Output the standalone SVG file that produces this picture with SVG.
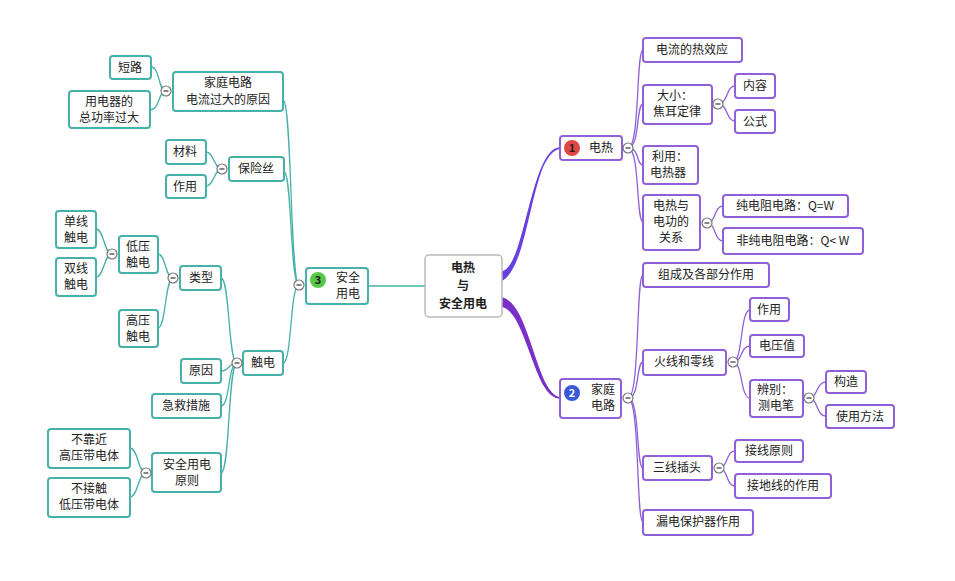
<svg xmlns="http://www.w3.org/2000/svg" width="955" height="581" viewBox="0 0 955 581">
<style>
text{font-family:"Noto Sans CJK SC","Noto Sans",sans-serif;font-size:12px;fill:#222;text-anchor:middle}
.p rect{fill:#fff;stroke:#9060d8;stroke-width:2}
.t rect{fill:#fff;stroke:#48b0aa;stroke-width:2}
.cp{fill:none;stroke:#9060d8;stroke-width:1.3}
.ct{fill:none;stroke:#48b0aa;stroke-width:1.3}
.c circle{fill:#fff;stroke:#777;stroke-width:1.2}
.c line{stroke:#444;stroke-width:1.3}
.b{font-weight:bold}
.i{font-weight:bold;font-size:11px}
</style>
<rect width="955" height="581" fill="#fff"/>
<g id="connectors">
<path d="M502,280 C530,265 530,150 560,148 C530,152 526,268 502,272 Z" fill="#6a3fe0" stroke="#6a3fe0" stroke-width="1.5"/>
<path d="M502,298 C530,305 535,395 560,398 C534,398 528,312 502,306 Z" fill="#7a30c8" stroke="#7a30c8" stroke-width="1.5"/>
<path class="ct" d="M368,286 H425"/>
<g class="cp">
<path d="M628,148 C640,148 636,50 643,50"/>
<path d="M628,148 C640,148 636,104 643,104"/>
<path d="M628,148 C640,148 636,165 643,165"/>
<path d="M628,148 C640,148 636,222 643,222"/>
<path d="M718,104 C728,104 726,86 735,86"/>
<path d="M718,104 C728,104 726,121 735,121"/>
<path d="M707,223 C716,223 714,206 723,206"/>
<path d="M707,223 C716,223 714,241 723,241"/>
<path d="M628,398 C640,398 636,275 643,275"/>
<path d="M628,398 C640,398 636,362 643,362"/>
<path d="M628,398 C640,398 636,468 643,468"/>
<path d="M628,398 C640,398 636,522 643,522"/>
<path d="M733,362 C743,362 740,310 750,310"/>
<path d="M733,362 C743,362 740,346 750,346"/>
<path d="M733,362 C743,362 740,398 750,398"/>
<path d="M809,398 C818,398 816,382 826,382"/>
<path d="M809,398 C818,398 816,416 826,416"/>
<path d="M719,468 C728,468 726,451 735,451"/>
<path d="M719,468 C728,468 726,486 735,486"/>
</g>
<g class="ct">
<path d="M299,285 C290,285 292,100 283,100"/>
<path d="M299,285 C290,285 292,172 284,172"/>
<path d="M299,285 C290,285 292,363 283,363"/>
<path d="M166,91 C158,91 160,67 151,67"/>
<path d="M166,91 C158,91 160,110 150,110"/>
<path d="M222,169 C214,169 214,152 206,152"/>
<path d="M222,169 C214,169 214,186 206,186"/>
<path d="M237,363 C228,363 230,278 221,278"/>
<path d="M237,363 C228,363 230,371 221,371"/>
<path d="M237,363 C228,363 230,406 221,406"/>
<path d="M237,363 C228,363 230,473 221,473"/>
<path d="M173,278 C165,278 166,254 158,254"/>
<path d="M173,278 C165,278 166,328 158,328"/>
<path d="M112,254 C104,254 104,229 96,229"/>
<path d="M112,254 C104,254 104,277 96,277"/>
<path d="M146,473 C138,473 138,448 130,448"/>
<path d="M146,473 C138,473 138,497 130,497"/>
</g>
</g>
<g id="center"><rect x="425" y="255" width="77" height="62" rx="4" fill="#fff" stroke="#bbb" stroke-width="1.5"/><text class="b" x="463" y="272">电热</text><text class="b" x="463" y="290">与</text><text class="b" x="463" y="308">安全用电</text></g>
<g class="p">
<g id="n1"><rect x="560" y="136" width="62" height="24" rx="3"/><circle cx="572" cy="148" r="8" fill="#e04848"/><text x="572" y="152" class="i">1</text><text x="601" y="152">电热</text></g>
<g id="n11"><rect x="643" y="38" width="99" height="24" rx="3"/><text x="692" y="54">电流的热效应</text></g>
<g id="n12"><rect x="643" y="85" width="69" height="39" rx="3"/><text x="675" y="100">大小：</text><text x="677" y="116">焦耳定律</text></g>
<g id="n121"><rect x="735" y="74" width="40" height="24" rx="3"/><text x="755" y="90">内容</text></g>
<g id="n122"><rect x="735" y="110" width="40" height="23" rx="3"/><text x="755" y="126">公式</text></g>
<g id="n13"><rect x="643" y="146" width="55" height="38" rx="3"/><text x="670" y="161">利用：</text><text x="668" y="177">电热器</text></g>
<g id="n14"><rect x="643" y="195" width="57" height="55" rx="3"/><text x="671" y="210">电热与</text><text x="671" y="226">电功的</text><text x="671" y="242">关系</text></g>
<g id="n141"><rect x="723" y="195" width="125" height="22" rx="3"/><text x="785" y="210">纯电阻电路：Q=W</text></g>
<g id="n142"><rect x="723" y="228" width="140" height="26" rx="3"/><text x="793" y="245">非纯电阻电路：Q&lt; W</text></g>
<g id="n2"><rect x="560" y="379" width="61" height="39" rx="3"/><circle cx="572" cy="393" r="8" fill="#3a5ad8"/><text x="572" y="397" class="i" style="fill:#fff">2</text><text x="603" y="394">家庭</text><text x="603" y="410">电路</text></g>
<g id="n21"><rect x="643" y="263" width="126" height="24" rx="3"/><text x="706" y="279">组成及各部分作用</text></g>
<g id="n22"><rect x="643" y="350" width="83" height="25" rx="3"/><text x="684" y="366">火线和零线</text></g>
<g id="n221"><rect x="750" y="298" width="39" height="23" rx="3"/><text x="769" y="314">作用</text></g>
<g id="n222"><rect x="750" y="335" width="54" height="22" rx="3"/><text x="777" y="350">电压值</text></g>
<g id="n223"><rect x="750" y="380" width="53" height="37" rx="3"/><text x="775" y="394">辨别：</text><text x="776" y="410">测电笔</text></g>
<g id="n2231"><rect x="826" y="371" width="40" height="22" rx="3"/><text x="846" y="386">构造</text></g>
<g id="n2232"><rect x="826" y="405" width="68" height="23" rx="3"/><text x="860" y="421">使用方法</text></g>
<g id="n23"><rect x="643" y="456" width="69" height="24" rx="3"/><text x="677" y="472">三线插头</text></g>
<g id="n231"><rect x="735" y="440" width="68" height="22" rx="3"/><text x="769" y="455">接线原则</text></g>
<g id="n232"><rect x="735" y="474" width="96" height="24" rx="3"/><text x="783" y="490">接地线的作用</text></g>
<g id="n24"><rect x="643" y="510" width="110" height="25" rx="3"/><text x="698" y="526">漏电保护器作用</text></g>
</g>
<g class="t">
<g id="n3"><rect x="306" y="268" width="62" height="36" rx="3"/><circle cx="318" cy="280" r="8" fill="#58c848"/><text x="318" y="284" class="i">3</text><text x="348" y="282">安全</text><text x="348" y="298">用电</text></g>
<g id="n31"><rect x="173" y="72" width="110" height="39" rx="3"/><text x="228" y="87">家庭电路</text><text x="228" y="104">电流过大的原因</text></g>
<g id="n311"><rect x="110" y="56" width="41" height="23" rx="3"/><text x="130" y="72">短路</text></g>
<g id="n312"><rect x="69" y="91" width="81" height="37" rx="3"/><text x="109" y="106">用电器的</text><text x="109" y="122">总功率过大</text></g>
<g id="n32"><rect x="229" y="157" width="55" height="24" rx="3"/><text x="256" y="173">保险丝</text></g>
<g id="n321"><rect x="166" y="140" width="40" height="24" rx="3"/><text x="185" y="156">材料</text></g>
<g id="n322"><rect x="166" y="175" width="40" height="23" rx="3"/><text x="185" y="191">作用</text></g>
<g id="n33"><rect x="243" y="351" width="40" height="24" rx="3"/><text x="263" y="367">触电</text></g>
<g id="n331"><rect x="180" y="266" width="41" height="24" rx="3"/><text x="201" y="282">类型</text></g>
<g id="n3311"><rect x="119" y="236" width="39" height="37" rx="3"/><text x="138" y="251">低压</text><text x="138" y="267">触电</text></g>
<g id="n33111"><rect x="56" y="211" width="40" height="37" rx="3"/><text x="76" y="226">单线</text><text x="76" y="242">触电</text></g>
<g id="n33112"><rect x="56" y="258" width="40" height="38" rx="3"/><text x="76" y="273">双线</text><text x="76" y="289">触电</text></g>
<g id="n3312"><rect x="119" y="310" width="39" height="37" rx="3"/><text x="138" y="325">高压</text><text x="138" y="341">触电</text></g>
<g id="n332"><rect x="181" y="359" width="40" height="24" rx="3"/><text x="201" y="375">原因</text></g>
<g id="n333"><rect x="152" y="394" width="69" height="24" rx="3"/><text x="186" y="410">急救措施</text></g>
<g id="n334"><rect x="152" y="453" width="69" height="39" rx="3"/><text x="187" y="469">安全用电</text><text x="187" y="485">原则</text></g>
<g id="n3341"><rect x="48" y="429" width="82" height="39" rx="3"/><text x="89" y="444">不靠近</text><text x="89" y="460">高压带电体</text></g>
<g id="n3342"><rect x="48" y="478" width="82" height="39" rx="3"/><text x="89" y="493">不接触</text><text x="89" y="509">低压带电体</text></g>
</g>
<g class="c">
<g><circle cx="628" cy="148" r="5"/><line x1="625.5" y1="148" x2="630.5" y2="148"/></g>
<g><circle cx="718" cy="104" r="5"/><line x1="715.5" y1="104" x2="720.5" y2="104"/></g>
<g><circle cx="707" cy="223" r="5"/><line x1="704.5" y1="223" x2="709.5" y2="223"/></g>
<g><circle cx="628" cy="398" r="5"/><line x1="625.5" y1="398" x2="630.5" y2="398"/></g>
<g><circle cx="733" cy="362" r="5"/><line x1="730.5" y1="362" x2="735.5" y2="362"/></g>
<g><circle cx="809" cy="398" r="5"/><line x1="806.5" y1="398" x2="811.5" y2="398"/></g>
<g><circle cx="719" cy="468" r="5"/><line x1="716.5" y1="468" x2="721.5" y2="468"/></g>
<g><circle cx="299" cy="285" r="5"/><line x1="296.5" y1="285" x2="301.5" y2="285"/></g>
<g><circle cx="166" cy="91" r="5"/><line x1="163.5" y1="91" x2="168.5" y2="91"/></g>
<g><circle cx="222" cy="169" r="5"/><line x1="219.5" y1="169" x2="224.5" y2="169"/></g>
<g><circle cx="237" cy="363" r="5"/><line x1="234.5" y1="363" x2="239.5" y2="363"/></g>
<g><circle cx="173" cy="278" r="5"/><line x1="170.5" y1="278" x2="175.5" y2="278"/></g>
<g><circle cx="112" cy="254" r="5"/><line x1="109.5" y1="254" x2="114.5" y2="254"/></g>
<g><circle cx="146" cy="473" r="5"/><line x1="143.5" y1="473" x2="148.5" y2="473"/></g>
</g>
</svg>
